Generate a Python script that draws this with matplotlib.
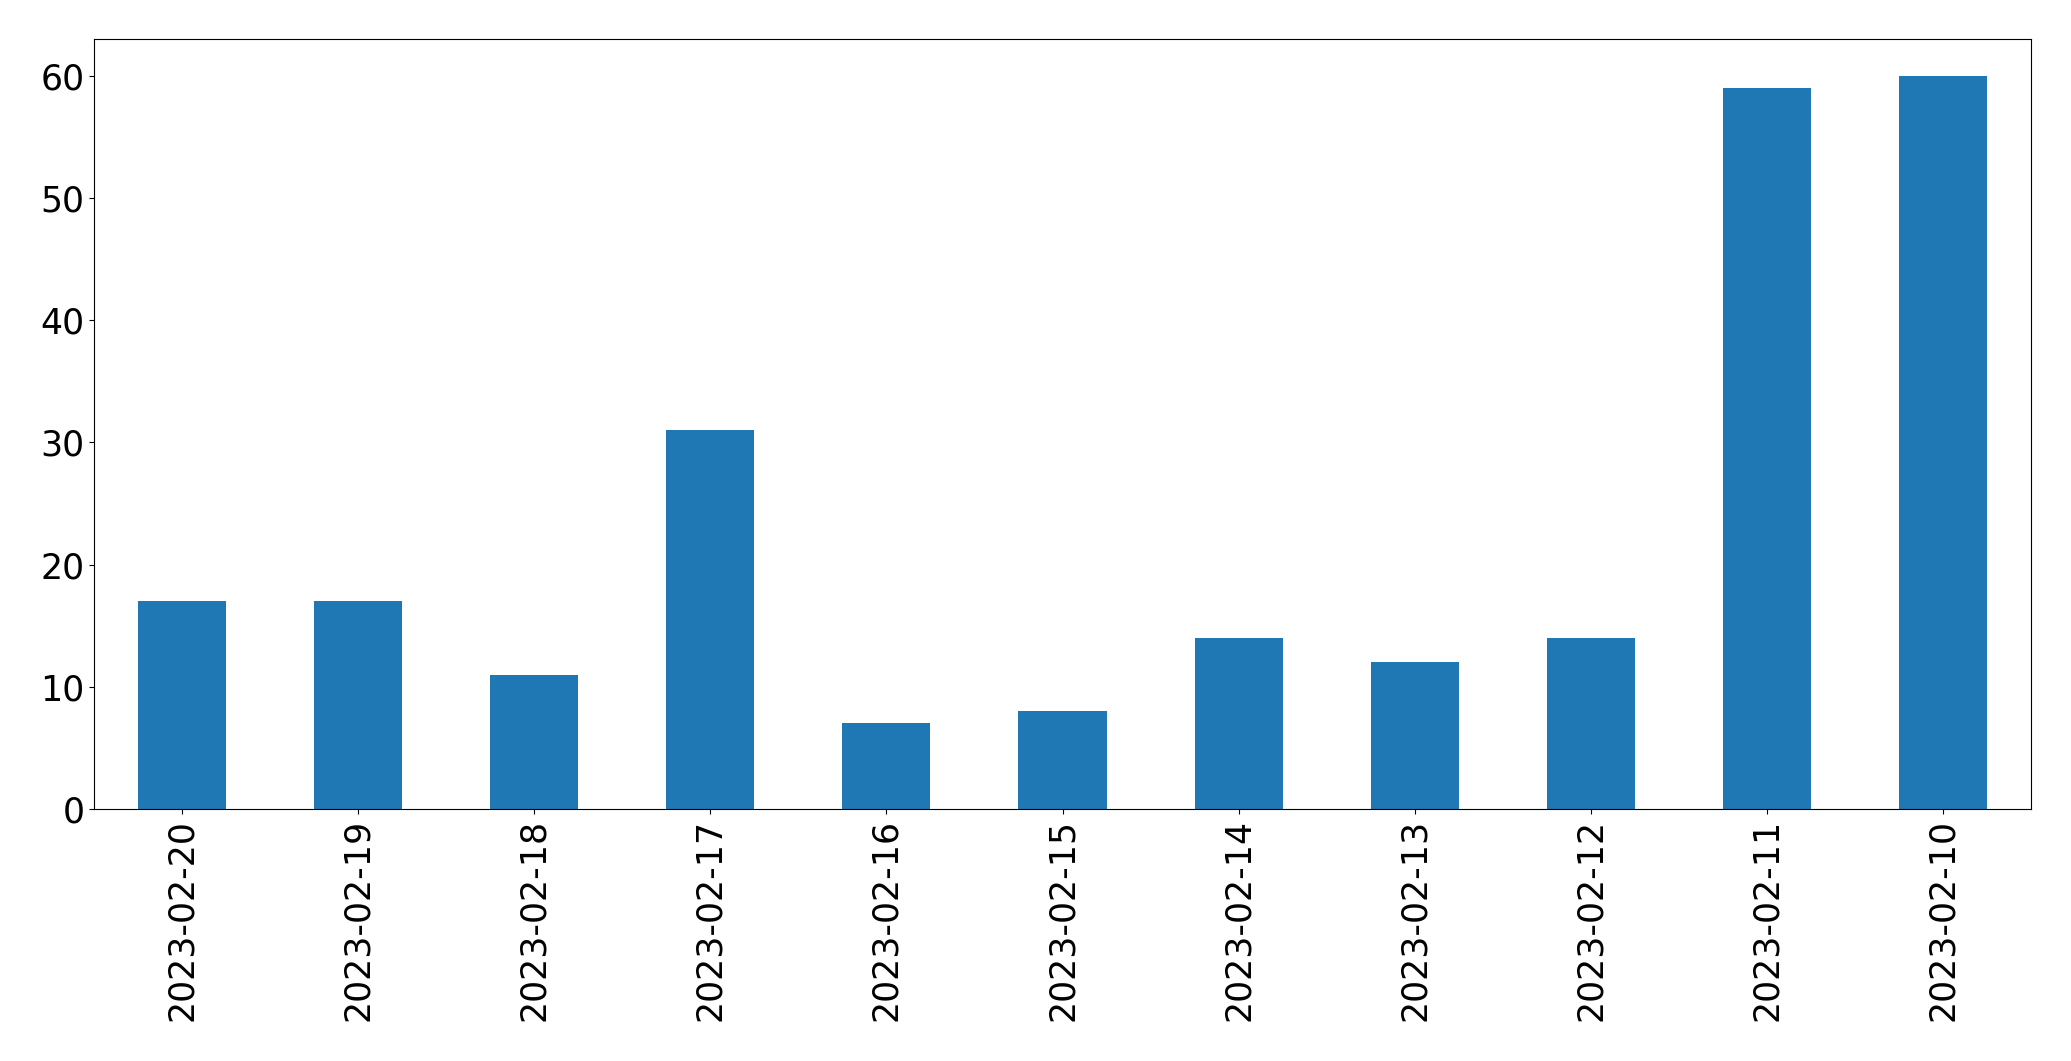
import matplotlib
matplotlib.use("Agg")
import matplotlib.pyplot as plt
import numpy as np

dates = ['2023-02-20', '2023-02-19', '2023-02-18', '2023-02-17', '2023-02-16',
         '2023-02-15', '2023-02-14', '2023-02-13', '2023-02-12', '2023-02-11',
         '2023-02-10']
counts = [17, 17, 11, 31, 7, 8, 14, 12, 14, 59, 60]

fig = plt.figure(figsize=(20.71, 10.61), dpi=100)
ax = fig.add_axes([94 / 2071, 1 - 809 / 1061, (2031 - 94) / 2071, (809 - 39) / 1061])

index = np.arange(len(dates))
ax.bar(index, counts, width=0.5, color='#1f77b4')
ax.set_xlim(-0.5, len(dates) - 0.5)
ax.set_ylim(0, max(counts) * 1.05)
ax.set_xticks(index)
ax.set_xticklabels(dates, rotation=90, fontsize=25)
ax.tick_params(axis='y', labelsize=25)

fig.savefig('out.png', dpi=100)
